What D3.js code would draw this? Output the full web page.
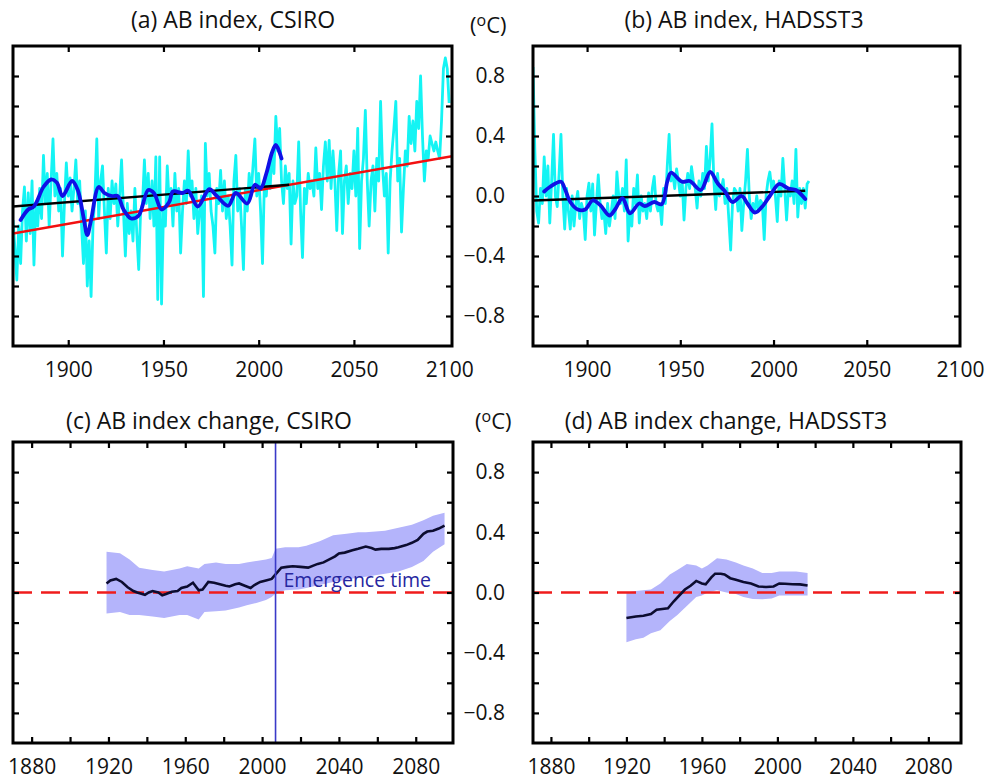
<!DOCTYPE html>
<html><head><meta charset="utf-8">
<script src="https://cdn.jsdelivr.net/npm/d3@7"></script>
<style>body{margin:0;background:#fff}svg{display:block}text{font-family:"Open Sans",sans-serif;fill:#111}</style>
</head><body><svg id="c" width="997" height="782"></svg>
<script>
// ---------- DATA ----------
const titles = ["(a) AB index, CSIRO","(b) AB index, HADSST3","(c) AB index change, CSIRO","(d) AB index change, HADSST3"];
const yTickVals = [-0.8,-0.6,-0.4,-0.2,0,0.2,0.4,0.6,0.8];
const yLabelVals = [0.8,0.4,0.0,-0.4,-0.8];
const xLabelsTop = [1900,1950,2000,2050,2100];
const xTicksBottom = [1880,1900,1920,1940,1960,1980,2000,2020,2040,2060,2080];
const xLabelsBottom = [1880,1920,1960,2000,2040,2080];

// (a) CSIRO annual AB index, 1871-2100
const cyanAStart = 1871;
const cyanA = [
-0.16,-0.35,-0.56,-0.20,-0.45,-0.10,0.06,-0.30,0.02,-0.25,
0.10,-0.46,-0.05,-0.20,0.05,-0.15,0.27,-0.05,0.15,-0.20,
0.10,0.38,0.00,0.15,-0.10,0.05,-0.40,-0.05,0.22,0.00,
0.12,-0.10,0.05,0.24,-0.05,0.10,-0.20,-0.45,-0.10,-0.60,
-0.30,-0.67,-0.20,0.00,0.38,-0.15,0.10,0.20,-0.10,-0.38,
0.05,-0.15,0.10,-0.05,0.08,-0.20,0.00,0.24,-0.10,-0.40,
-0.05,-0.25,-0.10,-0.30,0.05,-0.25,-0.49,-0.10,-0.05,0.24,
-0.05,0.15,-0.15,0.10,-0.20,0.26,-0.69,0.26,-0.72,-0.10,
-0.20,0.20,-0.05,0.05,-0.20,0.15,-0.10,0.05,-0.38,-0.10,
0.10,-0.05,0.30,0.00,0.10,-0.15,0.05,-0.25,-0.10,0.00,
-0.67,0.35,0.00,0.15,-0.10,-0.20,-0.38,0.05,-0.05,0.17,
-0.10,0.10,-0.15,0.00,-0.20,-0.46,0.10,0.27,-0.10,0.05,
-0.20,-0.49,0.05,-0.10,0.15,0.00,0.20,0.38,0.00,0.15,
-0.10,-0.45,0.10,0.00,0.20,0.05,0.30,0.15,0.53,0.30,
0.45,0.10,-0.05,0.20,0.05,0.15,-0.32,0.10,-0.05,0.00,
0.36,-0.10,-0.41,0.05,-0.05,0.15,0.05,0.10,0.00,0.32,
0.05,0.15,-0.09,0.20,0.36,0.10,0.37,0.05,0.30,0.10,
-0.23,0.15,0.30,-0.25,0.10,0.20,-0.05,0.15,0.05,0.30,
0.00,0.45,-0.35,0.10,0.25,0.57,0.10,-0.20,0.10,0.20,
-0.10,0.25,0.10,0.63,0.20,0.00,0.15,-0.38,0.10,0.30,
0.45,0.63,0.10,0.25,-0.24,0.05,0.30,0.20,0.53,0.35,
0.50,0.30,0.63,0.45,0.80,0.40,0.10,0.30,0.25,0.40,
0.35,0.30,0.36,0.30,0.25,0.50,0.85,0.92,0.85,0.62];
const smoothAYears = [1875,1879,1882,1887,1891,1894,1897,1902,1905,1908,1910,1912,1916,1919,1923,1926,1929,1933,1937,1942,1945,1949,1953,1955,1960,1963,1968,1974,1978,1984,1988,1994,1998,2001,2004,2007,2009,2012];
const smoothAVals  = [-0.16,-0.09,-0.07,0.06,0.11,0.09,0.0,0.1,0.04,-0.14,-0.26,-0.16,0.06,0.02,0.0,0.0,-0.09,-0.15,-0.13,0.04,0.02,-0.09,-0.04,0.03,0.02,0.035,-0.07,0.045,0.0,-0.065,0.02,-0.05,0.075,0.05,0.15,0.29,0.34,0.25];
const trendABlackYears = [1871,2016], trendABlackVals = [-0.07,0.075];
const trendARedYears = [1871,2101.5], trendARedVals = [-0.25,0.265];

// (b) HADSST3 annual AB index, 1871-2019
const cyanBStart = 1871;
const cyanB = [
0.86,0.30,-0.10,-0.18,0.05,-0.05,0.26,0.00,0.20,-0.18,
0.10,0.41,0.00,-0.07,0.15,0.41,0.00,-0.22,0.05,-0.10,
-0.22,0.00,-0.20,-0.05,0.03,-0.15,-0.05,-0.10,-0.29,0.00,
0.085,-0.10,0.08,-0.26,-0.05,0.14,-0.05,-0.15,-0.10,-0.25,
-0.05,-0.20,-0.10,0.00,-0.15,0.16,0.00,-0.05,0.05,-0.10,
0.24,-0.30,-0.10,-0.20,0.05,-0.05,0.14,-0.18,0.00,-0.10,
-0.05,-0.15,0.02,-0.10,0.05,0.13,-0.05,-0.10,-0.05,-0.19,
0.05,-0.05,0.20,0.41,0.10,0.15,0.05,0.18,0.10,0.00,
0.10,-0.16,0.05,0.15,0.05,0.195,0.10,0.05,-0.08,0.10,
0.00,0.15,0.05,0.33,0.10,0.25,0.48,0.10,-0.09,0.15,
0.00,0.05,0.11,-0.05,0.05,-0.15,-0.36,-0.05,0.05,0.03,
-0.10,0.05,-0.23,-0.05,0.10,0.31,0.00,-0.15,-0.05,-0.10,
0.00,-0.10,-0.03,-0.05,-0.29,0.00,0.10,0.16,0.05,0.10,
0.00,-0.17,0.10,0.00,0.25,0.05,-0.16,0.05,0.00,0.10,
-0.05,0.31,-0.14,0.05,-0.05,0.05,-0.08,0.08,0.10];
const smoothBYears = [1877,1880,1886,1888,1891,1895,1899,1903,1907,1912,1915,1919,1923,1928,1931,1936,1940,1943,1945,1951,1955,1961,1966,1970,1974,1978,1983,1986,1990,1994,1998,2003,2008,2012,2017];
const smoothBVals  = [0.03,0.06,0.095,0.05,-0.04,-0.09,-0.09,-0.03,-0.06,-0.13,-0.09,-0.015,-0.115,-0.05,-0.067,-0.04,-0.055,0.095,0.155,0.095,0.10,0.04,0.16,0.085,0.03,-0.04,0.0,-0.05,-0.11,-0.07,0.0,0.08,0.05,0.04,-0.02];
const trendBYears = [1871,2017], trendBVals = [-0.03,0.035];

// (c) CSIRO change with spread
const changeCYears = [1919,1921,1924,1927,1930,1933,1935,1939,1941,1943,1946,1948,1950,1953,1956,1958,1961,1964,1967,1969,1972,1975,1978,1981,1983,1986,1988,1991,1994,1996,1999,2002,2005,2007,2010,2013,2016,2020,2024,2027,2029,2032,2035,2038,2040,2043,2047,2050,2054,2057,2059,2062,2066,2069,2071,2075,2078,2081,2084,2086,2089,2092,2095];
const changeCVals  = [0.06,0.08,0.09,0.07,0.035,0.01,0.0,-0.015,0.0,0.01,0.0,-0.018,-0.01,0.005,0.01,0.03,0.04,0.065,0.015,0.02,0.07,0.065,0.055,0.045,0.04,0.055,0.06,0.045,0.03,0.05,0.07,0.08,0.09,0.12,0.165,0.17,0.174,0.17,0.165,0.18,0.19,0.2,0.22,0.24,0.26,0.265,0.28,0.29,0.305,0.295,0.285,0.29,0.29,0.295,0.3,0.315,0.33,0.35,0.39,0.405,0.41,0.425,0.445];
const bandCYears = [1919,1926,1931,1936,1943,1949,1957,1961,1967,1970,1976,1981,1988,1992,1997,2002,2005,2007,2012,2019,2023,2030,2037,2044,2050,2054,2064,2071,2078,2084,2089,2095];
const bandCUpper = [0.27,0.26,0.22,0.165,0.15,0.14,0.16,0.175,0.16,0.19,0.2,0.19,0.19,0.2,0.21,0.22,0.23,0.29,0.3,0.3,0.31,0.34,0.38,0.39,0.4,0.4,0.41,0.43,0.45,0.48,0.51,0.53];
const bandCLower = [-0.14,-0.13,-0.15,-0.15,-0.16,-0.17,-0.15,-0.15,-0.18,-0.13,-0.125,-0.12,-0.1,-0.084,-0.07,-0.05,-0.03,-0.007,0.015,0.02,0.03,0.05,0.07,0.085,0.1,0.105,0.125,0.14,0.17,0.21,0.27,0.32];
const emergenceYear = 2007;

// (d) HADSST3 change with spread
const changeDYears = [1920,1925,1929,1933,1936,1939,1942,1945,1948,1951,1954,1957,1960,1962,1965,1967,1970,1972,1975,1978,1982,1986,1990,1994,1998,2001,2004,2008,2012,2016];
const changeDVals  = [-0.17,-0.16,-0.154,-0.143,-0.115,-0.11,-0.105,-0.06,-0.02,0.02,0.045,0.077,0.06,0.055,0.1,0.125,0.125,0.12,0.095,0.085,0.07,0.06,0.04,0.037,0.04,0.06,0.058,0.055,0.054,0.046];
const bandDYears = [1920,1925,1929,1933,1938,1943,1947,1952,1957,1960,1963,1968,1973,1978,1982,1987,1992,1997,2001,2006,2010,2016];
const bandDUpper = [0.0,0.01,0.015,0.02,0.06,0.12,0.15,0.19,0.18,0.16,0.18,0.227,0.22,0.2,0.18,0.16,0.13,0.13,0.14,0.14,0.14,0.13];
const bandDLower = [-0.33,-0.31,-0.30,-0.27,-0.25,-0.19,-0.15,-0.09,-0.03,-0.02,0.0,0.015,0.0,-0.01,-0.03,-0.044,-0.045,-0.04,-0.02,-0.02,-0.02,-0.02];

// ---------- DRAW ----------
const svg = d3.select("#c");
const panels = [
  {id:"a", l:13, r:452, t:46, b:346, xd:[1871,2101.5], title:titles[0], tx:233, ty:28, xt:[1900,1950,2000,2050], xl:xLabelsTop, yl:false},
  {id:"b", l:533, r:960, t:46, b:346, xd:[1871,2100], title:titles[1], tx:744, ty:28, xt:[1900,1950,2000,2050], xl:xLabelsTop, yl:true, ux:470, uy:33},
  {id:"c", l:13, r:453, t:442, b:743, xd:[1870.3,2099.4], title:titles[2], tx:209, ty:429, xt:xTicksBottom, xl:xLabelsBottom, yl:false},
  {id:"d", l:533, r:961, t:442, b:743, xd:[1870.5,2097.3], title:titles[3], tx:726, ty:429, xt:xTicksBottom, xl:xLabelsBottom, yl:true, ux:475, uy:429}
];
panels.forEach(p=>{
  p.x = d3.scaleLinear().domain(p.xd).range([p.l,p.r]);
  p.y = d3.scaleLinear().domain([-1,1]).range([p.b,p.t]);
  svg.append("clipPath").attr("id","clip"+p.id).append("rect")
    .attr("x",p.l).attr("y",p.t).attr("width",p.r-p.l).attr("height",p.b-p.t);
  p.g = svg.append("g").attr("clip-path",`url(#clip${p.id})`);
});
const line = (p, curve) => d3.line().x(d=>p.x(d[0])).y(d=>p.y(d[1])).curve(curve||d3.curveLinear);
const zip = (a,b) => a.map((v,i)=>[v,b[i]]);

// (a)
{
  const p = panels[0];
  p.g.append("path").datum(cyanA.map((v,i)=>[cyanAStart+i,v])).attr("d",line(p))
    .attr("fill","none").attr("stroke","#14f4f4").attr("stroke-width",2.8).attr("stroke-linejoin","round");
  p.g.append("path").datum(zip(trendARedYears,trendARedVals)).attr("d",line(p)).attr("fill","none").attr("stroke","#f21010").attr("stroke-width",2.5);
  p.g.append("path").datum(zip(trendABlackYears,trendABlackVals)).attr("d",line(p)).attr("fill","none").attr("stroke","#000").attr("stroke-width",2.3);
  p.g.append("path").datum(zip(smoothAYears,smoothAVals)).attr("d",line(p,d3.curveCatmullRom.alpha(0.5)))
    .attr("fill","none").attr("stroke","#1010e6").attr("stroke-width",3.8).attr("stroke-linecap","round");
}
// (b)
{
  const p = panels[1];
  p.g.append("path").datum(cyanB.map((v,i)=>[cyanBStart+i,v])).attr("d",line(p))
    .attr("fill","none").attr("stroke","#14f4f4").attr("stroke-width",2.8).attr("stroke-linejoin","round");
  p.g.append("path").datum(zip(trendBYears,trendBVals)).attr("d",line(p)).attr("fill","none").attr("stroke","#000").attr("stroke-width",2.3);
  p.g.append("path").datum(zip(smoothBYears,smoothBVals)).attr("d",line(p,d3.curveCatmullRom.alpha(0.5)))
    .attr("fill","none").attr("stroke","#1010e6").attr("stroke-width",3.8).attr("stroke-linecap","round");
}
// (c),(d)
function changePanel(p, bandYears, up, lo, yrs, vals){
  const area = d3.area().x(d=>p.x(d[0])).y0(d=>p.y(d[2])).y1(d=>p.y(d[1]));
  p.g.append("path").datum(bandYears.map((v,i)=>[v,up[i],lo[i]])).attr("d",area).attr("fill","#b4b4fb");
  p.g.append("line").attr("x1",p.l).attr("x2",p.r).attr("y1",p.y(0)).attr("y2",p.y(0))
    .attr("stroke","#f01c1c").attr("stroke-width",2.6).attr("stroke-dasharray","19,9");
  p.g.append("path").datum(zip(yrs,vals)).attr("d",line(p)).attr("fill","none").attr("stroke","#0c0c30").attr("stroke-width",2.6);
}
changePanel(panels[2], bandCYears, bandCUpper, bandCLower, changeCYears, changeCVals);
changePanel(panels[3], bandDYears, bandDUpper, bandDLower, changeDYears, changeDVals);
{
  const p = panels[2];
  p.g.append("line").attr("x1",p.x(emergenceYear)).attr("x2",p.x(emergenceYear)).attr("y1",p.t).attr("y2",p.b)
    .attr("stroke","#3a3ac8").attr("stroke-width",1.6);
  svg.append("text").attr("x",p.x(emergenceYear)+8).attr("y",p.y(0.035)).text("Emergence time")
    .style("fill","#2626a0").style("font-size","19.5px");
}

// frames, ticks, labels
panels.forEach(p=>{
  const g = svg.append("g");
  const tk = 6;
  g.append("g").attr("transform",`translate(0,${p.b})`)
    .call(d3.axisBottom(p.x).tickValues(p.xt).tickSize(-tk).tickFormat(""));
  g.append("g").attr("transform",`translate(0,${p.t})`)
    .call(d3.axisTop(p.x).tickValues(p.xt).tickSize(-tk).tickFormat(""));
  g.append("g").attr("transform",`translate(${p.l},0)`)
    .call(d3.axisLeft(p.y).tickValues(yTickVals).tickSize(-tk).tickFormat(""));
  g.append("g").attr("transform",`translate(${p.r},0)`)
    .call(d3.axisRight(p.y).tickValues(yTickVals).tickSize(-tk).tickFormat(""));
  g.selectAll(".domain").remove();
  g.selectAll(".tick line").attr("stroke","#000").attr("stroke-width",2.2);
  // x labels
  g.append("g").attr("transform",`translate(0,${p.b})`)
    .call(d3.axisBottom(p.x).tickValues(p.xl).tickSize(0).tickPadding(16).tickFormat(d3.format("d")))
    .call(s=>s.select(".domain").remove())
    .selectAll("text").style("font-size","21px").style("font-family","'Open Sans',sans-serif").attr("fill","#111");
  if(p.yl){
    g.append("g").attr("transform",`translate(${p.l-28},0)`)
      .call(d3.axisLeft(p.y).tickValues(yLabelVals).tickSize(0).tickPadding(0).tickFormat(d3.format(".1f")))
      .call(s=>s.select(".domain").remove())
      .selectAll("text").style("font-size","21px").style("font-family","'Open Sans',sans-serif").attr("fill","#111");
    const u = svg.append("text").attr("x",p.ux).attr("y",p.uy).style("font-size","22px");
    u.append("tspan").text("(");
    u.append("tspan").text("o").attr("dy",-7).style("font-size","16px");
    u.append("tspan").text("C)").attr("dy",7);
  }
  g.append("rect").attr("x",p.l).attr("y",p.t).attr("width",p.r-p.l).attr("height",p.b-p.t)
    .attr("fill","none").attr("stroke","#000").attr("stroke-width",3);
  svg.append("text").attr("x",p.tx).attr("y",p.ty).attr("text-anchor","middle").text(p.title).style("font-size","23px");
});
</script></body></html>
